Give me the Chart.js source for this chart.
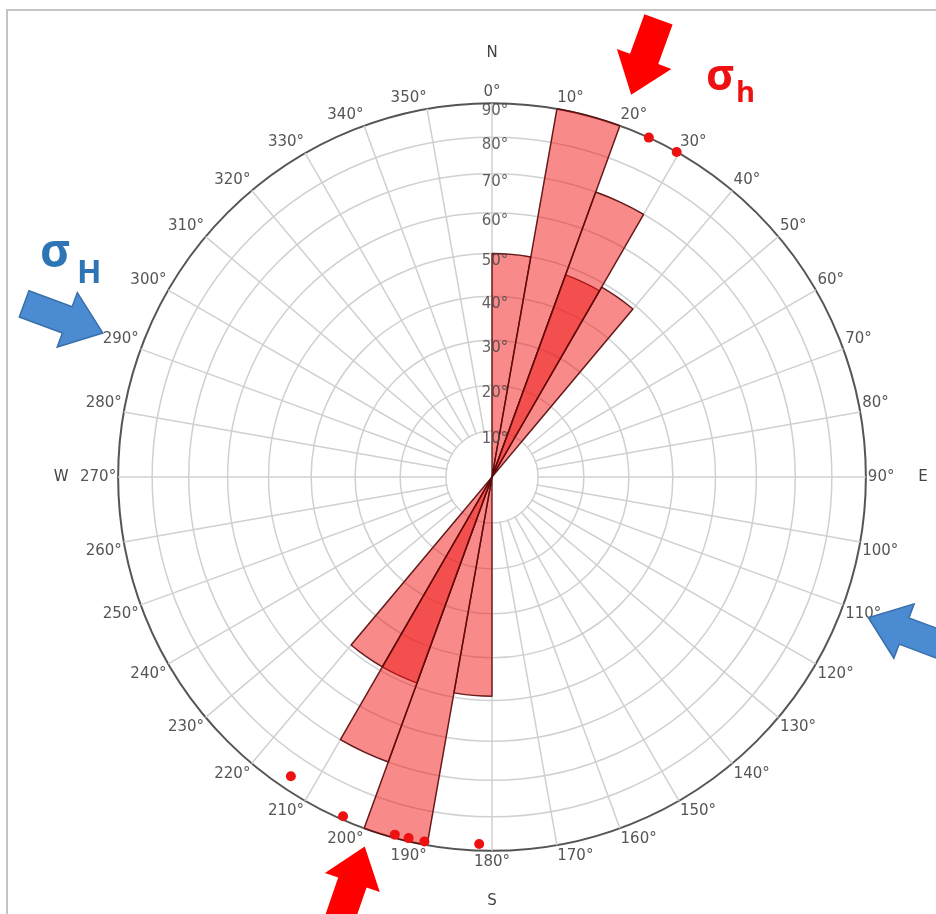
<!DOCTYPE html>
<html>
<head>
<meta charset="utf-8">
<title>Rose diagram</title>
<script src="https://cdn.jsdelivr.net/npm/chart.js@4.4.1/dist/chart.umd.min.js"></script>
<style>
  html, body { margin: 0; padding: 0; background: #fff; }
  #wrap { position: relative; width: 936px; height: 914px; overflow: hidden; }
  #rose { position: absolute; left: 0; top: 0; }
  #frame { position: absolute; left: 6px; top: 9px; width: 960px; height: 960px;
           border-top: 2px solid #c4c4c4; border-left: 2px solid #c4c4c4; pointer-events: none; }
</style>
</head>
<body>
<div id="wrap">
  <canvas id="rose" width="936" height="914"></canvas>
  <div id="frame"></div>
</div>
<script>
// Azimuth sectors (10° bins, clockwise from north)
const sectorLabels = ['0°', '10°', '20°', '30°', '40°', '50°', '60°', '70°', '80°', '90°',
  '100°', '110°', '120°', '130°', '140°', '150°', '160°', '170°', '180°', '190°',
  '200°', '210°', '220°', '230°', '240°', '250°', '260°', '270°', '280°', '290°',
  '300°', '310°', '320°', '330°', '340°', '350°'];

// Fracture set 1, one value per sector
const setOne = [50, 90, 70, 0, 0, 0, 0, 0, 0, 0,
  0, 0, 0, 0, 0, 0, 0, 0, 49, 90,
  70, 0, 0, 0, 0, 0, 0, 0, 0, 0,
  0, 0, 0, 0, 0, 0];

// Fracture set 2, one value per sector
const setTwo = [0, 0, 48, 49, 0, 0, 0, 0, 0, 0,
  0, 0, 0, 0, 0, 0, 0, 0, 0, 0,
  49, 49, 0, 0, 0, 0, 0, 0, 0, 0,
  0, 0, 0, 0, 0, 0];

// Dip rings
const dipTicks = [10, 20, 30, 40, 50, 60, 70, 80, 90];

// Poles plotted as dots: azimuth and dip
const poleAzimuth = [24.8, 29.6, 182, 190.5, 193, 195.2, 203.7, 213.9];
const poleDip = [90, 90, 88, 89, 89, 89, 89, 86];

// Stress directions
const stressNames = ['σh', 'σh', 'σH', 'σH'];
const stressAzimuth = [20, 199, 110.5, 290.3];
const stressGap = [33, 17, 28, 41];

// Cardinal letters
const cardinalNames = ['N', 'E', 'S', 'W'];
const cardinalAzimuth = [0, 90, 180, 270];

const FONT = '"DejaVu Sans", Verdana, sans-serif';

// Radial scale with an equal-area (Schmidt) spacing of the dip rings
class EqualAreaRadialScale extends Chart.RadialLinearScale {
  getDistanceFromCenterForValue(value) {
    if (value === null || value === undefined || isNaN(value)) return NaN;
    const v = Math.max(this.min, Math.min(this.max, value));
    return this.drawingArea * Math.sin(v * Math.PI / 360) / Math.sin(this.max * Math.PI / 360);
  }
  getValueForDistanceFromCenter(distance) {
    const f = Math.min(1, distance / this.drawingArea) * Math.sin(this.max * Math.PI / 360);
    return Math.asin(f) * 360 / Math.PI;
  }
  drawLabels() {
    const ctx = this.ctx;
    ctx.save();
    ctx.font = '15px ' + FONT;
    ctx.fillStyle = 'rgba(70,70,70,0.85)';
    ctx.textAlign = 'center';
    ctx.textBaseline = 'middle';
    this.ticks.forEach(t => {
      if (t.value <= this.min) return;
      const d = this.getDistanceFromCenterForValue(t.value);
      ctx.fillText(t.label, this.xCenter + 3, this.yCenter - d + 8);
    });
    ctx.restore();
  }
}
EqualAreaRadialScale.id = 'equalAreaRadial';
EqualAreaRadialScale.defaults = Chart.RadialLinearScale.defaults;
Chart.register(EqualAreaRadialScale);

function polarPoint(scale, azimuth, distance) {
  const a = scale.getIndexAngle(0) + (azimuth - 90) * Math.PI / 180;
  return { x: scale.xCenter + Math.cos(a) * distance, y: scale.yCenter + Math.sin(a) * distance, a };
}

// White hole at the centre of the net
const centreHole = {
  id: 'centreHole',
  beforeDatasetsDraw(chart) {
    const s = chart.scales.r;
    const ctx = chart.ctx;
    const r = s.getDistanceFromCenterForValue(dipTicks[0]);
    ctx.save();
    ctx.beginPath();
    ctx.arc(s.xCenter, s.yCenter, r - 1, 0, Math.PI * 2);
    ctx.fillStyle = '#fff';
    ctx.fill();
    ctx.restore();
  }
};

function blockArrow(ctx, tip, dir, len, shaftW, headW, headL, fill, stroke) {
  ctx.save();
  ctx.translate(tip.x, tip.y);
  ctx.rotate(dir);
  ctx.beginPath();
  ctx.moveTo(0, 0);
  ctx.lineTo(-headL, -headW / 2);
  ctx.lineTo(-headL, -shaftW / 2);
  ctx.lineTo(-len, -shaftW / 2);
  ctx.lineTo(-len, shaftW / 2);
  ctx.lineTo(-headL, shaftW / 2);
  ctx.lineTo(-headL, headW / 2);
  ctx.closePath();
  ctx.fillStyle = fill;
  ctx.fill();
  if (stroke) { ctx.strokeStyle = stroke; ctx.lineWidth = 1.5; ctx.stroke(); }
  ctx.restore();
}

// Poles, cardinal letters, stress arrows and their symbols
const overlays = {
  id: 'overlays',
  afterDraw(chart) {
    const s = chart.scales.r;
    const ctx = chart.ctx;
    ctx.save();
    // poles
    ctx.fillStyle = '#ee1111';
    poleAzimuth.forEach((az, i) => {
      const p = polarPoint(s, az, s.getDistanceFromCenterForValue(poleDip[i]));
      ctx.beginPath();
      ctx.arc(p.x, p.y, 5, 0, Math.PI * 2);
      ctx.fill();
    });
    // cardinal letters
    ctx.font = '15px ' + FONT;
    ctx.fillStyle = '#444';
    ctx.textAlign = 'center';
    ctx.textBaseline = 'middle';
    cardinalNames.forEach((n, i) => {
      const extra = (cardinalAzimuth[i] % 180 === 0) ? 50 : 57;
      const p = polarPoint(s, cardinalAzimuth[i], s.drawingArea + extra);
      ctx.fillText(n, p.x, p.y);
    });
    // stress arrows pointing at the centre
    stressAzimuth.forEach((az, i) => {
      const tip = polarPoint(s, az, s.drawingArea + stressGap[i]);
      const dir = tip.a + Math.PI;
      if (stressNames[i] === 'σh') {
        blockArrow(ctx, tip, dir, 80, 30, 58, 38, '#ff0000', null);
      } else {
        blockArrow(ctx, tip, dir, 84, 28, 58, 38, '#4a8bd2', '#3a70aa');
      }
    });
    // stress symbols
    ctx.textAlign = 'left';
    ctx.textBaseline = 'alphabetic';
    const top = polarPoint(s, 0, s.drawingArea);
    ctx.fillStyle = '#ee1111';
    ctx.font = 'bold 43px "Open Sans", "Liberation Sans", sans-serif';
    ctx.fillText('σ', top.x + 214, top.y - 13);
    ctx.font = 'bold 29px "Open Sans", "Liberation Sans", sans-serif';
    ctx.fillText('h', top.x + 244, top.y - 1);
    ctx.fillStyle = '#2e75b6';
    ctx.font = 'bold 46px "Open Sans", "Liberation Sans", sans-serif';
    ctx.fillText('σ', s.xCenter - 452, s.yCenter - 210);
    ctx.font = 'bold 32px "Open Sans", "Liberation Sans", sans-serif';
    ctx.fillText('H', s.xCenter - 415, s.yCenter - 194);
    ctx.restore();
  }
};

const fill = 'rgba(242, 22, 22, 0.5)';
const edge = 'rgba(90, 10, 10, 0.9)';

new Chart(document.getElementById('rose'), {
  type: 'polarArea',
  data: {
    labels: sectorLabels,
    datasets: [
      { label: 'Set 1', data: setOne, backgroundColor: fill, borderColor: edge,
        borderWidth: c => (c.raw > 0 ? 1.4 : 0) },
      { label: 'Set 2', data: setTwo, backgroundColor: fill, borderColor: edge,
        borderWidth: c => (c.raw > 0 ? 1.4 : 0) }
    ]
  },
  options: {
    responsive: false,
    devicePixelRatio: 1,
    animation: false,
    layout: { padding: { left: 78, right: 34, top: 65, bottom: 25 } },
    plugins: { legend: { display: false }, tooltip: { enabled: false } },
    scales: {
      r: {
        type: 'equalAreaRadial',
        min: 0,
        max: 90,
        startAngle: 0,
        ticks: { display: false, stepSize: 10, z: 1, callback: v => v + '°' },
        grid: {
          circular: true,
          color: c => (c.tick && c.tick.value === 90 ? '#555' : '#d0d0d0'),
          lineWidth: c => (c.tick && c.tick.value === 90 ? 2 : 1.5)
        },
        angleLines: { display: true, color: '#d0d0d0', lineWidth: 1.5 },
        pointLabels: { display: true, padding: 2, color: '#555', font: { family: FONT, size: 15 } }
      }
    }
  },
  plugins: [centreHole, overlays]
});
</script>
</body>
</html>
